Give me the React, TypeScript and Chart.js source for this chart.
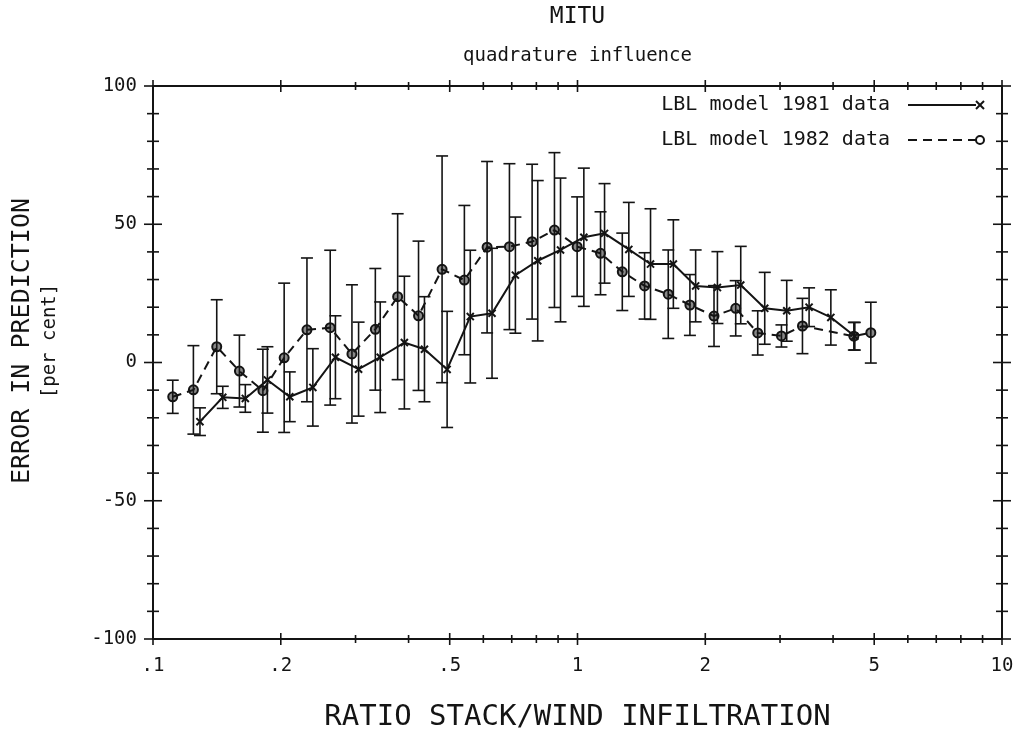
import React, { useEffect, useRef } from 'react';
import { Chart, registerables } from 'chart.js';

Chart.register(...registerables);

const FONT = '"DejaVu Sans Mono", "Liberation Mono", monospace';
const INK = '#141414';

// ---- data ----
const seriesLabels = ['LBL model 1981 data', 'LBL model 1982 data'];

const x1981 = [0.129, 0.146, 0.165, 0.186, 0.210, 0.238, 0.269, 0.305, 0.343, 0.391, 0.436, 0.493, 0.559, 0.629, 0.714, 0.806, 0.912, 1.035, 1.158, 1.321, 1.486, 1.682, 1.898, 2.136, 2.424, 2.761, 3.111, 3.512, 3.952, 4.501];
const y1981 = [-21.4, -12.6, -13.0, -6.3, -12.4, -9.0, 1.9, -2.4, 1.9, 7.2, 4.8, -2.5, 16.6, 17.8, 31.6, 36.8, 40.7, 45.3, 46.7, 40.9, 35.6, 35.6, 27.7, 27.1, 28.0, 19.6, 18.7, 20.0, 16.3, 9.5];
const err1981 = [5, 4, 5, 12, 9, 14, 15, 17, 20, 24, 19, 21, 24, 23.5, 21, 29, 26, 25, 18, 17, 20, 16, 13, 13, 14, 13, 11, 7, 10, 5];

const x1982 = [0.1113, 0.1245, 0.1413, 0.1598, 0.1815, 0.2037, 0.2305, 0.2615, 0.2942, 0.334, 0.377, 0.4222, 0.4797, 0.5414, 0.6124, 0.6913, 0.7818, 0.8825, 0.998, 1.133, 1.275, 1.439, 1.636, 1.840, 2.097, 2.359, 2.658, 3.023, 3.388, 4.477, 4.909];
const y1982 = [-12.4, -9.9, 5.7, -3.1, -10.2, 1.7, 11.8, 12.6, 3.1, 12.0, 23.8, 16.9, 33.7, 29.8, 41.7, 41.9, 43.7, 47.9, 41.9, 39.5, 32.8, 27.7, 24.7, 20.8, 16.8, 19.6, 10.7, 9.6, 13.2, 9.5, 10.8];
const err1982 = [6, 16, 17, 13, 15, 27, 26, 28, 25, 22, 30, 27, 41, 27, 31, 30, 28, 28, 18, 15, 14, 12, 16, 11, 11, 10, 8, 4, 10, 5, 11];

const xTickValues = [0.1, 0.2, 0.5, 1, 2, 5, 10];
const xTickLabels = ['.1', '.2', '.5', '1', '2', '5', '10'];
const xMinorTicks = [0.3, 0.4, 0.6, 0.7, 0.8, 0.9, 3, 4, 6, 7, 8, 9];
const yTickValues = [-100, -50, 0, 50, 100];
const yMinorTicks = [-90, -80, -70, -60, -40, -30, -20, -10, 10, 20, 30, 40, 60, 70, 80, 90];

const titleText = 'MITU';
const subtitleText = 'quadrature influence';
const xTitle = 'RATIO STACK/WIND INFILTRATION';
const yTitle = 'ERROR IN PREDICTION';
const yUnit = '[per cent]';

const toPoints = (xs: number[], ys: number[]) => xs.map((x, i) => ({ x, y: ys[i] }));

function line(ctx: CanvasRenderingContext2D, x1: number, y1: number, x2: number, y2: number) {
  ctx.beginPath();
  ctx.moveTo(x1, y1);
  ctx.lineTo(x2, y2);
  ctx.stroke();
}

const framePlugin = {
  id: 'frameTicks',
  beforeDatasetsDraw(chart: any) {
    const { ctx, chartArea: a, scales } = chart;
    const xs = scales.x;
    const ys = scales.y;
    ctx.save();
    ctx.strokeStyle = INK;
    ctx.lineWidth = 2;
    ctx.strokeRect(a.left, a.top, a.right - a.left, a.bottom - a.top);
    ctx.lineWidth = 1.6;
    const xt = (v: number, len: number) => {
      const px = xs.getPixelForValue(v);
      line(ctx, px, a.bottom - len, px, a.bottom + len);
      line(ctx, px, a.top - len, px, a.top + len);
    };
    const yt = (v: number, len: number) => {
      const py = ys.getPixelForValue(v);
      line(ctx, a.left - len, py, a.left + len, py);
      line(ctx, a.right - len, py, a.right + len, py);
    };
    xTickValues.forEach((v) => xt(v, 6));
    xMinorTicks.forEach((v) => xt(v, 4));
    yTickValues.forEach((v) => yt(v, 9));
    yMinorTicks.forEach((v) => yt(v, 6));
    ctx.restore();
  },
};

const errorBarPlugin = {
  id: 'errorBars',
  afterDatasetsDraw(chart: any) {
    const { ctx, scales } = chart;
    const ys = scales.y;
    ctx.save();
    ctx.strokeStyle = INK;
    ctx.lineWidth = 1.6;
    ctx.setLineDash([]);
    chart.data.datasets.forEach((ds: any, di: number) => {
      const meta = chart.getDatasetMeta(di);
      ds.data.forEach((p: any, i: number) => {
        const e = ds.errorBars[i];
        const px = meta.data[i].x;
        const top = ys.getPixelForValue(p.y + e);
        const bot = ys.getPixelForValue(p.y - e);
        line(ctx, px, top, px, bot);
        line(ctx, px - 6, top, px + 6, top);
        line(ctx, px - 6, bot, px + 6, bot);
      });
    });
    ctx.restore();
  },
};

const textPlugin = {
  id: 'extraText',
  afterDraw(chart: any) {
    const { ctx, chartArea: a } = chart;
    ctx.save();
    ctx.fillStyle = INK;
    // y axis titles
    const cy = 341;
    ctx.textAlign = 'center';
    ctx.textBaseline = 'middle';
    ctx.translate(22, cy);
    ctx.rotate(-Math.PI / 2);
    ctx.font = `25px ${FONT}`;
    ctx.fillText(yTitle, 0, 0);
    ctx.font = `19px ${FONT}`;
    ctx.fillText(yUnit, 0, 28);
    ctx.restore();

    // legend
    ctx.save();
    ctx.fillStyle = INK;
    ctx.strokeStyle = INK;
    ctx.font = `20px ${FONT}`;
    ctx.textAlign = 'right';
    ctx.textBaseline = 'middle';
    chart.data.datasets.forEach((ds: any, i: number) => {
      const y = a.top + 19 + i * 35;
      ctx.fillText(ds.label, a.right - 112, y);
      ctx.lineWidth = 2;
      ctx.setLineDash(ds.borderDash || []);
      line(ctx, a.right - 94, y, a.right - 26, y);
      ctx.setLineDash([]);
      const mx = a.right - 22;
      if (ds.pointStyle === 'circle') {
        ctx.beginPath();
        ctx.arc(mx, y, 4, 0, Math.PI * 2);
        ctx.stroke();
      } else {
        line(ctx, mx - 4, y - 4, mx + 4, y + 4);
        line(ctx, mx - 4, y + 4, mx + 4, y - 4);
      }
    });
    ctx.restore();
  },
};

export default function App() {
  const ref = useRef<HTMLCanvasElement>(null);
  useEffect(() => {
    document.body.style.margin = '0';
    const chart = new Chart(ref.current as HTMLCanvasElement, {
      type: 'line',
      data: {
        datasets: [
          {
            label: seriesLabels[0],
            data: toPoints(x1981, y1981),
            errorBars: err1981,
            borderColor: INK,
            borderWidth: 2,
            pointStyle: 'crossRot',
            pointRadius: 5,
            pointBorderWidth: 2,
            pointBorderColor: INK,
            tension: 0,
          } as any,
          {
            label: seriesLabels[1],
            data: toPoints(x1982, y1982),
            errorBars: err1982,
            borderColor: INK,
            borderWidth: 2,
            borderDash: [9, 6],
            pointStyle: 'circle',
            pointRadius: 4.5,
            pointBorderWidth: 2,
            pointBorderColor: INK,
            pointBackgroundColor: 'rgba(20,20,20,0.5)',
            tension: 0,
          } as any,
        ],
      },
      options: {
        animation: false,
        responsive: false,
        layout: { padding: { left: 0, right: 14, top: 0, bottom: 0 } },
        plugins: {
          legend: { display: false },
          tooltip: { enabled: false },
          title: {
            display: true,
            text: titleText,
            fullSize: false,
            color: INK,
            font: { family: FONT, size: 23, weight: 'normal', lineHeight: 1.2 },
            padding: { top: 3.2, bottom: 0 },
          },
          subtitle: {
            display: true,
            text: subtitleText,
            fullSize: false,
            color: INK,
            font: { family: FONT, size: 19, weight: 'normal', lineHeight: 1.2 },
            padding: { top: 13.8, bottom: 18.6 },
          },
        },
        scales: {
          x: {
            type: 'logarithmic',
            min: 0.1,
            max: 10,
            afterBuildTicks: (scale: any) => {
              scale.ticks = xTickValues.map((v) => ({ value: v }));
            },
            afterFit: (scale: any) => {
              scale.height = 96;
              scale.paddingLeft = 0;
              scale.paddingRight = 0;
            },
            grid: { display: false, drawTicks: false },
            border: { display: false },
            ticks: {
              autoSkip: false,
              maxRotation: 0,
              padding: 16,
              color: INK,
              font: { family: FONT, size: 19 },
              callback: (_v: any, i: number) => xTickLabels[i],
            },
            title: {
              display: true,
              text: xTitle,
              color: INK,
              font: { family: FONT, size: 29, lineHeight: 1.2 },
              padding: { top: 0, bottom: 0.6 },
            },
          },
          y: {
            type: 'linear',
            min: -100,
            max: 100,
            afterBuildTicks: (scale: any) => {
              scale.ticks = yTickValues.map((v) => ({ value: v }));
            },
            afterFit: (scale: any) => {
              scale.width = 153;
              scale.paddingTop = 0;
              scale.paddingBottom = 0;
            },
            grid: { display: false, drawTicks: false },
            border: { display: false },
            ticks: {
              padding: 16,
              color: INK,
              font: { family: FONT, size: 19 },
            },
          },
        },
      } as any,
      plugins: [framePlugin, errorBarPlugin, textPlugin],
    });
    return () => chart.destroy();
  }, []);
  return <canvas ref={ref} width={1016} height={735} style={{ display: 'block' }} />;
}
